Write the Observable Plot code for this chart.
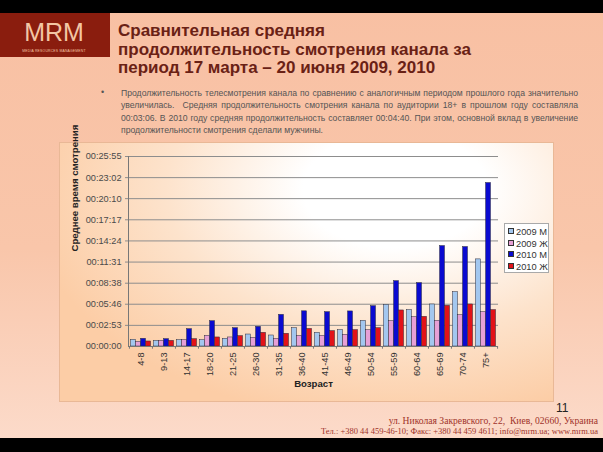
<!DOCTYPE html>
<html><head><meta charset="utf-8">
<script src="https://cdn.jsdelivr.net/npm/d3@7"></script>
<script src="https://cdn.jsdelivr.net/npm/@observablehq/plot@0.6"></script>
<style>
html,body{margin:0;padding:0;}
body{width:603px;height:452px;overflow:hidden;position:relative;font-family:"Liberation Sans",Arial,sans-serif;
background:linear-gradient(to bottom,#f8c0a3 0%,#f9c6aa 55%,#fcdccc 100%);}
.abs{position:absolute;}
#topbar{left:0;top:0;width:603px;height:13px;background:#000;}
#botbar{left:0;top:438px;width:603px;height:14px;background:#000;}
#logo{left:0;top:13px;width:110px;height:44px;background:#8a1d0e;color:#f3c6a4;text-align:center;}
#logo .big{position:absolute;left:0;width:108px;top:5px;font-size:25px;font-weight:normal;}
#logo .small{position:absolute;left:0;width:108px;top:36px;font-size:3.4px;letter-spacing:0.2px;}
#title{left:118px;top:22px;font-size:17px;font-weight:bold;color:#6a2115;line-height:18.5px;white-space:nowrap;}
#bullet{left:101px;top:87px;font-size:9px;color:#555;}
#para{left:121px;top:87px;width:457px;font-size:8.65px;line-height:12.3px;color:#555;}
#para div{text-align:justify;text-align-last:justify;white-space:nowrap;}
#para div.last{text-align-last:left;}
#panel{left:60px;top:143px;width:493px;height:258px;outline:1px solid #e9b896;
background:radial-gradient(ellipse 75% 90% at 68% 18%,#ffffff 25%,#fde3cc 62%,#fccda6 100%);}
#panel svg{position:absolute;left:0;top:0;}
#legend{left:444px;top:80px;width:45px;height:50px;background:#fff;border:1px solid #a9a9a9;box-sizing:border-box;padding:3px 0 0 3px;}
#legend .item{font-size:9.3px;line-height:11.6px;color:#333;white-space:nowrap;}
#legend .sw{display:inline-block;width:4px;height:4px;border:1px solid #333;margin-right:2px;vertical-align:1px;}
#pagenum{left:556px;top:403px;font-size:12px;line-height:11px;color:#222;}
.addr{font-family:"Liberation Serif","Times New Roman",serif;font-size:9.6px;line-height:10px;color:#a0332a;right:5px;text-align:right;white-space:nowrap;}
</style></head>
<body>
<div id="topbar" class="abs"></div>
<div id="logo" class="abs"><div class="big">MRM</div><div class="small">MEDIA RESOURCES MANAGEMENT</div></div>
<div id="title" class="abs">Сравнительная средняя<br>продолжительность смотрения канала за<br>период 17 марта – 20 июня 2009, 2010</div>
<div id="bullet" class="abs">•</div>
<div id="para" class="abs">
<div>Продолжительность телесмотрения канала по сравнению с аналогичным периодом прошлого года значительно</div>
<div>увеличилась.&nbsp; Средняя продолжительность смотрения канала по аудитории 18+ в прошлом году составляла</div>
<div>00:03:06. В 2010 году средняя продолжительность составляет 00:04:40. При этом, основной вклад в увеличение</div>
<div class="last">продолжительности смотрения сделали мужчины.</div>
</div>
<div id="panel" class="abs"></div>
<div id="pagenum" class="abs">11</div>
<div class="abs addr" style="top:416px;">ул. Николая Закревского, 22,&nbsp; Киев, 02660, Украина</div>
<div class="abs addr" style="top:426px;font-size:8.5px;">Тел.: +380 44 459-46-10; Факс: +380 44 459 4611; info@mrm.ua; www.mrm.ua</div>
<div id="botbar" class="abs"></div>
<script>
const ages = ["4-8","9-13","14-17","18-20","21-25","26-30","31-35","36-40","41-45","46-49","50-54","55-59","60-64","65-69","70-74","75+"];
const seriesNames = ["2009 M","2009 Ж","2010 M","2010 Ж"];
// average viewing time, seconds
const m2009 = [55,46,52,52,63,98,90,150,112,134,210,341,298,344,445,713];
const f2009 = [38,46,52,87,74,71,63,87,87,96,134,207,240,210,257,281];
const m2010 = [63,60,142,207,150,161,259,288,281,287,330,535,519,822,814,1338];
const f2010 = [41,46,60,74,85,112,104,144,126,134,150,295,243,333,344,298];
const yTickValues = [0,173,346,518,691,864,1037,1210,1382,1555];
const yTickLabels = ["00:00:00","00:02:53","00:05:46","00:08:38","00:11:31","00:14:24","00:17:17","00:20:10","00:23:02","00:25:55"];
const colors = ["#a3c7ef","#e7a0d6","#0a0ad0","#e21218"];

const seriesValues = [m2009,f2009,m2010,f2010];
const rows = [];
seriesValues.forEach((vals,si)=>vals.forEach((v,ai)=>rows.push({age:ages[ai],series:seriesNames[si],value:v})));

const W = 493, H = 258, ML = 68, MR = 55, MT = 13, MB = 55;
const bw = (W-ML-MR)/ages.length;
const barW = bw*0.218;
const pad = (bw-4*barW)/2;

const barMarks = seriesNames.map((s,i)=>Plot.barY(rows.filter(r=>r.series===s),{
  x:"age", y:"value", fill:colors[i], stroke:"#2a2a3a", strokeWidth:0.5,
  insetLeft: pad+i*barW, insetRight: bw-pad-(i+1)*barW
}));

const chart = Plot.plot({
  width:W, height:H, marginLeft:ML, marginRight:MR, marginTop:MT, marginBottom:MB,
  style:{background:"transparent", fontFamily:"'Liberation Sans',Arial,sans-serif", fontSize:"9.2px", color:"#4a4a4a", overflow:"visible"},
  x:{domain:ages, padding:0},
  y:{domain:[0,1555]},
  marks:[
    Plot.ruleY(yTickValues.slice(1),{stroke:"#8d8d8d", strokeWidth:1, insetLeft:-3}),
    ...barMarks,
    Plot.ruleY([0],{stroke:"#777", strokeWidth:1}),
    Plot.ruleX(ages,{x:d=>d, y1:0, y2:-22, stroke:"#777", dx:-bw/2}),
    Plot.ruleX([ages[ages.length-1]],{x:d=>d, y1:0, y2:-22, stroke:"#777", dx:bw/2}),
    Plot.frame({anchor:"left", stroke:"#777"}),
    Plot.axisY({ticks:yTickValues, tickFormat:d=>yTickLabels[yTickValues.indexOf(d)], tickSize:0, tickPadding:7, label:null, fill:"#4a4a4a"}),
    Plot.axisX({tickSize:0, tickPadding:6, tickRotate:-90, label:null, fill:"#333"}),
    Plot.text(["Среднее время смотрения"],{text:d=>d, frameAnchor:"left", rotate:-90, dx:-54, fontWeight:"bold", fontSize:9.6, fill:"#222"}),
    Plot.text(["Возраст"],{text:d=>d, frameAnchor:"bottom", dy:40, fontWeight:"bold", fontSize:9.6, fill:"#222"})
  ]
});
const panel = document.getElementById("panel");
panel.appendChild(chart);

const legend = document.createElement("div");
legend.id = "legend"; legend.className = "abs";
seriesNames.forEach((s,i)=>{
  const it = document.createElement("div"); it.className = "item";
  const sw = document.createElement("span"); sw.className = "sw"; sw.style.background = colors[i];
  it.appendChild(sw); it.appendChild(document.createTextNode(s));
  legend.appendChild(it);
});
panel.appendChild(legend);
</script>
</body></html>
